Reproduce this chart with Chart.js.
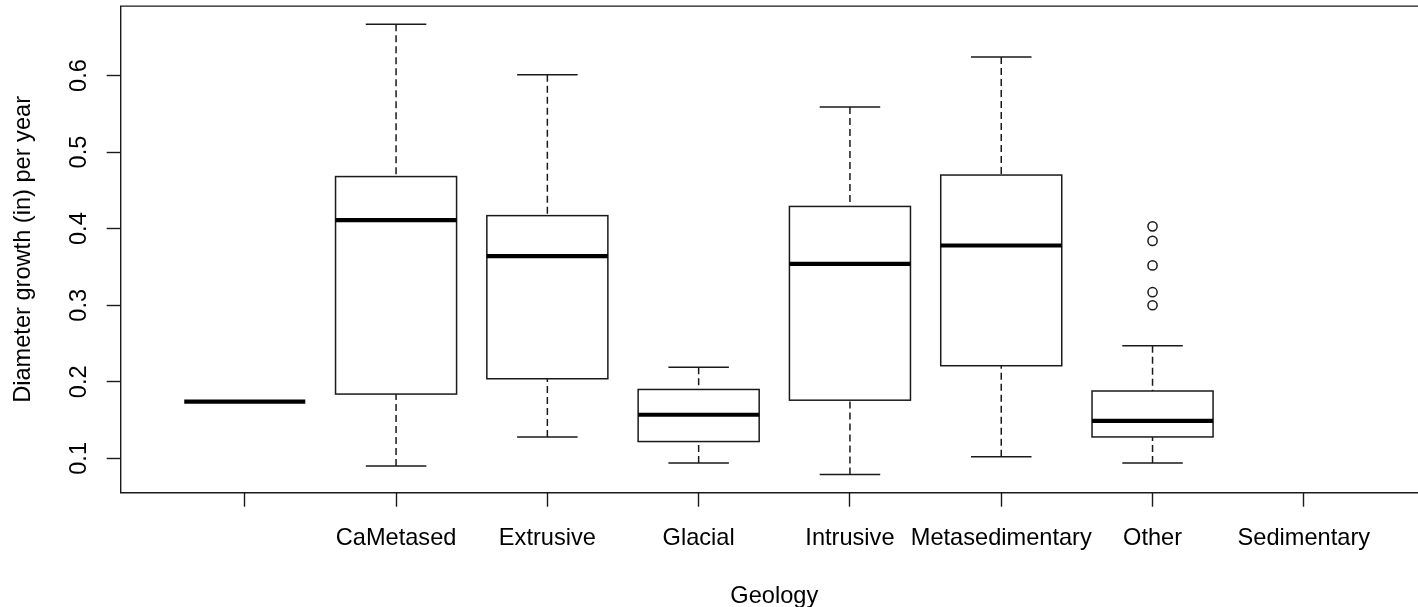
<!DOCTYPE html>
<html>
<head>
<meta charset="utf-8">
<script src="https://cdn.jsdelivr.net/npm/chart.js@4/dist/chart.umd.min.js"></script>
<style>
  html, body { margin: 0; padding: 0; background: #ffffff; overflow: hidden; }
  #wrap { width: 1418px; height: 607px; overflow: hidden; position: relative; }
  canvas { display: block; }
</style>
</head>
<body>
<div id="wrap"><canvas id="c" width="1434" height="607"></canvas></div>
<script>
// ---- data ----
const categories   = ["", "CaMetased", "Extrusive", "Glacial", "Intrusive", "Metasedimentary", "Other", "Sedimentary"];
const whiskerLow   = [0.174, 0.090, 0.128, 0.094, 0.079, 0.102, 0.094, null];
const quartile1    = [0.174, 0.184, 0.204, 0.122, 0.176, 0.221, 0.128, null];
const medians      = [0.174, 0.411, 0.364, 0.157, 0.354, 0.378, 0.149, null];
const quartile3    = [0.174, 0.468, 0.417, 0.190, 0.429, 0.470, 0.188, null];
const whiskerHigh  = [0.174, 0.667, 0.601, 0.219, 0.559, 0.624, 0.247, null];
const outlierGroup = ["Other", "Other", "Other", "Other", "Other"];
const outlierValue = [0.403, 0.384, 0.352, 0.317, 0.300];
const yTickValues  = [0.1, 0.2, 0.3, 0.4, 0.5, 0.6];
const yTickLabels  = ["0.1", "0.2", "0.3", "0.4", "0.5", "0.6"];
const xTitle = "Geology";
const yTitle = "Diameter growth (in) per year";

const FONT = "'Liberation Sans', Arial, sans-serif";
const FSIZE = 23.6;
const INK = '#1a1a1a';

const outlierPoints = outlierValue.map((v, i) => ({ x: categories.indexOf(outlierGroup[i]) + 1, y: v }));

const boxPlugin = {
  id: 'boxes',
  beforeDatasetsDraw(chart) {
    const ctx = chart.ctx;
    const xs = chart.scales.x, ys = chart.scales.y;
    const a = chart.chartArea;
    ctx.save();
    // frame (top, left, bottom; right edge lies outside the photo)
    ctx.strokeStyle = INK;
    ctx.lineWidth = 1.4;
    ctx.setLineDash([]);
    ctx.beginPath();
    ctx.moveTo(a.right, a.top);
    ctx.lineTo(a.left, a.top);
    ctx.lineTo(a.left, a.bottom);
    ctx.lineTo(a.right, a.bottom);
    ctx.stroke();

    const half = 0.4, capHalf = 0.2;
    categories.forEach((c, i) => {
      if (medians[i] === null) return;
      const pos = i + 1;
      const xl = xs.getPixelForValue(pos - half);
      const xr = xs.getPixelForValue(pos + half);
      const xc = xs.getPixelForValue(pos);
      const cl = xs.getPixelForValue(pos - capHalf);
      const cr = xs.getPixelForValue(pos + capHalf);
      const yLo = ys.getPixelForValue(whiskerLow[i]);
      const yQ1 = ys.getPixelForValue(quartile1[i]);
      const yMd = ys.getPixelForValue(medians[i]);
      const yQ3 = ys.getPixelForValue(quartile3[i]);
      const yHi = ys.getPixelForValue(whiskerHigh[i]);
      const flat = Math.abs(yQ1 - yQ3) < 0.5;

      ctx.strokeStyle = INK;
      ctx.lineWidth = 1.5;
      if (!flat) {
        // whiskers (dashed)
        ctx.setLineDash([7, 4]);
        ctx.beginPath();
        ctx.moveTo(xc, yHi); ctx.lineTo(xc, yQ3);
        ctx.moveTo(xc, yLo); ctx.lineTo(xc, yQ1);
        ctx.stroke();
        ctx.setLineDash([]);
        // staples
        ctx.beginPath();
        ctx.moveTo(cl, yHi); ctx.lineTo(cr, yHi);
        ctx.moveTo(cl, yLo); ctx.lineTo(cr, yLo);
        ctx.stroke();
        // box
        ctx.fillStyle = '#ffffff';
        ctx.fillRect(xl, yQ3, xr - xl, yQ1 - yQ3);
        ctx.strokeRect(xl, yQ3, xr - xl, yQ1 - yQ3);
      }
      // median
      ctx.setLineDash([]);
      ctx.lineWidth = 4.2;
      ctx.strokeStyle = '#000000';
      ctx.beginPath();
      ctx.moveTo(xl, yMd); ctx.lineTo(xr, yMd);
      ctx.stroke();
    });
    ctx.restore();
  }
};

new Chart(document.getElementById('c'), {
  type: 'scatter',
  data: {
    datasets: [{
      label: 'outliers',
      data: outlierPoints,
      pointRadius: 4.6,
      pointHoverRadius: 4.6,
      pointBorderWidth: 1.5,
      pointBorderColor: INK,
      pointBackgroundColor: 'rgba(0,0,0,0)'
    }]
  },
  options: {
    responsive: false,
    animation: false,
    events: [],
    layout: { padding: { top: 5.3, left: 0, right: 0, bottom: 0 } },
    plugins: { legend: { display: false }, tooltip: { enabled: false } },
    scales: {
      x: {
        type: 'linear',
        position: 'bottom',
        min: 0.18,
        max: 8.82,
        afterBuildTicks: s => { s.ticks = categories.map((c, i) => ({ value: i + 1 })); },
        afterFit: s => { s.height = 114.3; s.paddingLeft = 0; s.paddingRight = 0; },
        ticks: {
          autoSkip: false,
          maxRotation: 0,
          minRotation: 0,
          padding: 17.5,
          color: '#000',
          font: { family: FONT, size: FSIZE },
          callback: (v, i) => categories[i]
        },
        grid: { drawOnChartArea: false, drawTicks: true, tickLength: 14, tickColor: INK, tickWidth: 1.4 },
        border: { display: false },
        title: {
          display: true, text: xTitle, color: '#000',
          font: { family: FONT, size: FSIZE, lineHeight: 0.8 },
          padding: { top: 0, bottom: 1 }
        }
      },
      y: {
        type: 'linear',
        position: 'left',
        min: 0.0552,
        max: 0.6906,
        afterBuildTicks: s => { s.ticks = yTickValues.map(v => ({ value: v })); },
        afterFit: s => { s.width = 120.7; s.paddingTop = 0; s.paddingBottom = 0; },
        ticks: {
          minRotation: 90,
          maxRotation: 90,
          crossAlign: 'center',
          padding: 10.5,
          color: '#000',
          font: { family: FONT, size: FSIZE },
          callback: (v, i) => yTickLabels[i]
        },
        grid: { drawOnChartArea: false, drawTicks: true, tickLength: 14, tickColor: INK, tickWidth: 1.4 },
        border: { display: false },
        title: {
          display: true, text: yTitle, color: '#000',
          font: { family: FONT, size: FSIZE, lineHeight: 1 },
          padding: { top: 11.5, bottom: 0 }
        }
      }
    }
  },
  plugins: [boxPlugin]
});
</script>
</body>
</html>
